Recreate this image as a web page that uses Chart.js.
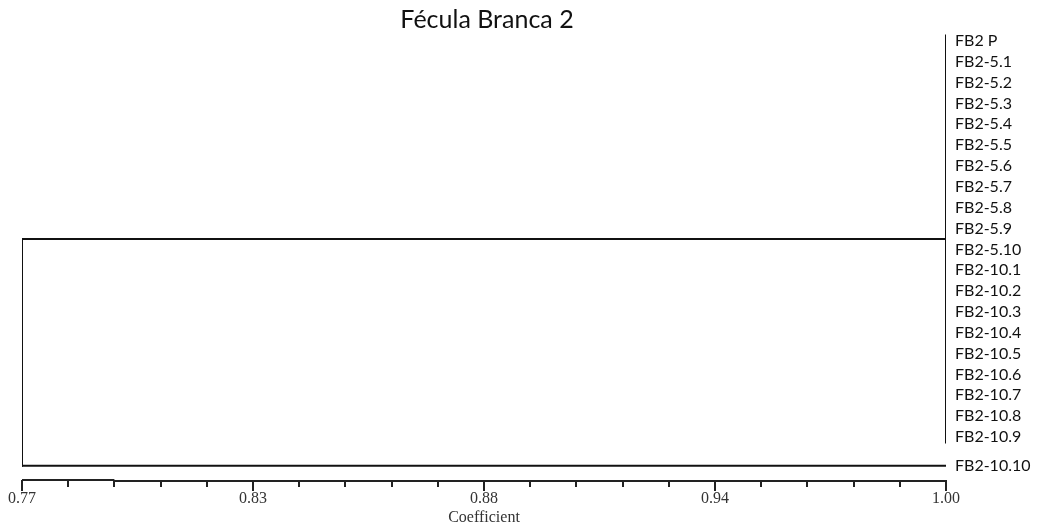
<!DOCTYPE html>
<html>
<head>
<meta charset="utf-8">
<script src="https://cdn.jsdelivr.net/npm/chart.js@4/dist/chart.umd.min.js"></script>
<style>
  html, body { margin: 0; padding: 0; background: #fff; }
  canvas { display: block; }
</style>
</head>
<body>
<canvas id="dendro" width="1040" height="527"></canvas>
<script>
// Dendrogram: Fécula Branca 2 (similarity coefficient)
const chartTitle = 'Fécula Branca 2';
const axisTitle = 'Coefficient';

const leafLabels = [
  'FB2 P', 'FB2-5.1', 'FB2-5.2', 'FB2-5.3', 'FB2-5.4', 'FB2-5.5', 'FB2-5.6',
  'FB2-5.7', 'FB2-5.8', 'FB2-5.9', 'FB2-5.10', 'FB2-10.1', 'FB2-10.2',
  'FB2-10.3', 'FB2-10.4', 'FB2-10.5', 'FB2-10.6', 'FB2-10.7', 'FB2-10.8',
  'FB2-10.9', 'FB2-10.10'
];

// Cluster nodes: similarity level of each join and what it joins
// (numbers are leaf indices, 'n#' refers to an earlier node)
const nodeLevels = [1.00, 0.77];
const nodeChildren = [
  [0, 1, 2, 3, 4, 5, 6, 7, 8, 9, 10, 11, 12, 13, 14, 15, 16, 17, 18, 19],
  ['n0', 20]
];

// Coefficient axis
const xMin = 0.77;
const xMax = 1.00;
const xStep = 0.0115;
const xTickLabels = ['0.77', '0.83', '0.88', '0.94', '1.00'];

// Row layout: one unit per leaf, with a wider gap before the outgroup
const outgroupGap = 0.39;
const leafY = leafLabels.map((_, i) => i + (i === leafLabels.length - 1 ? outgroupGap : 0));
// Zero-height clusters draw their stem slightly past the outer leaves
const stemOverhang = 0.27;

// Build node positions and the line segments of the tree
const nodePos = [];
function childPos(c) {
  if (typeof c === 'number') return { x: 1.00, y: leafY[c] };
  return nodePos[parseInt(c.slice(1), 10)];
}
const segments = [];
nodeChildren.forEach((kids, n) => {
  const lvl = nodeLevels[n];
  const pts = kids.map(childPos);
  const ys = pts.map(p => p.y);
  const yTop = Math.min(...ys), yBot = Math.max(...ys);
  nodePos[n] = { x: lvl, y: (yTop + yBot) / 2 };
  const flat = pts.every(p => p.x === lvl);
  const ext = flat ? stemOverhang : 0;
  segments.push([{ x: lvl, y: yTop - ext }, { x: lvl, y: yBot + ext }]);
  pts.forEach(p => {
    if (p.x !== lvl) segments.push([{ x: lvl, y: p.y }, { x: p.x, y: p.y }]);
  });
});

const datasets = segments.map(seg => ({
  data: seg,
  showLine: true,
  borderColor: '#111',
  borderWidth: 2,
  pointRadius: 0,
  pointHoverRadius: 0,
  borderCapStyle: 'square'
}));

// Title, axis baseline and tick marks
const decorations = {
  id: 'decorations',
  afterDraw(chart) {
    const { ctx, chartArea } = chart;
    const xs = chart.scales.x;
    ctx.save();
    ctx.fillStyle = '#111';
    ctx.font = '25px Lato';
    ctx.textAlign = 'center';
    ctx.textBaseline = 'alphabetic';
    ctx.fillText(chartTitle, (chartArea.left + chartArea.right) / 2 + 3, 28);

    const base = chartArea.bottom + 1;
    ctx.strokeStyle = '#222';
    ctx.lineWidth = 2;
    const p0 = xs.getPixelForValue(xs.ticks[0].value);
    const p2 = xs.getPixelForValue(xs.ticks[2].value);
    const pEnd = xs.getPixelForValue(xs.ticks[xs.ticks.length - 1].value);
    ctx.beginPath();
    ctx.moveTo(p0, base - 1);
    ctx.lineTo(p2, base - 1);
    ctx.moveTo(p2, base);
    ctx.lineTo(pEnd, base);
    ctx.stroke();
    xs.ticks.forEach((t, i) => {
      const px = Math.round(xs.getPixelForValue(t.value));
      const len = i % 5 === 0 ? 10 : 6;
      ctx.beginPath();
      ctx.moveTo(px, base - 1);
      ctx.lineTo(px, base + len);
      ctx.stroke();
    });
    ctx.restore();
  }
};

new Chart(document.getElementById('dendro'), {
  type: 'scatter',
  data: { datasets },
  plugins: [decorations],
  options: {
    responsive: false,
    animation: false,
    events: [],
    layout: { padding: { top: 30, left: 22, right: 0, bottom: 0 } },
    plugins: { legend: { display: false }, tooltip: { enabled: false }, title: { display: false } },
    scales: {
      x: {
        type: 'linear',
        position: 'bottom',
        min: xMin,
        max: xMax,
        afterFit(s) { s.height = 47; },
        border: { display: false },
        grid: { display: true, drawOnChartArea: false, drawTicks: true, tickLength: 8, color: 'rgba(0,0,0,0)' },
        ticks: {
          stepSize: xStep,
          autoSkip: false,
          maxRotation: 0,
          padding: 1,
          color: '#333',
          font: { family: 'Liberation Serif', size: 16 },
          callback: (v, i) => (i % 5 === 0 ? xTickLabels[i / 5] : '')
        },
        title: {
          display: true,
          text: axisTitle,
          color: '#333',
          font: { family: 'Liberation Serif', size: 16 },
          padding: { top: 0, bottom: 0 }
        }
      },
      y: {
        type: 'linear',
        position: 'right',
        reverse: true,
        min: -0.528,
        max: 21.07,
        afterFit(s) { s.width = 94; },
        afterBuildTicks(s) { s.ticks = leafY.map(v => ({ value: v })); },
        border: { display: false },
        grid: { display: false, drawTicks: false, tickLength: 0 },
        ticks: {
          autoSkip: false,
          padding: 9,
          color: '#111',
          font: { family: 'Lato', size: 16 },
          callback: (v, i) => leafLabels[i]
        }
      }
    }
  }
});
</script>
</body>
</html>
